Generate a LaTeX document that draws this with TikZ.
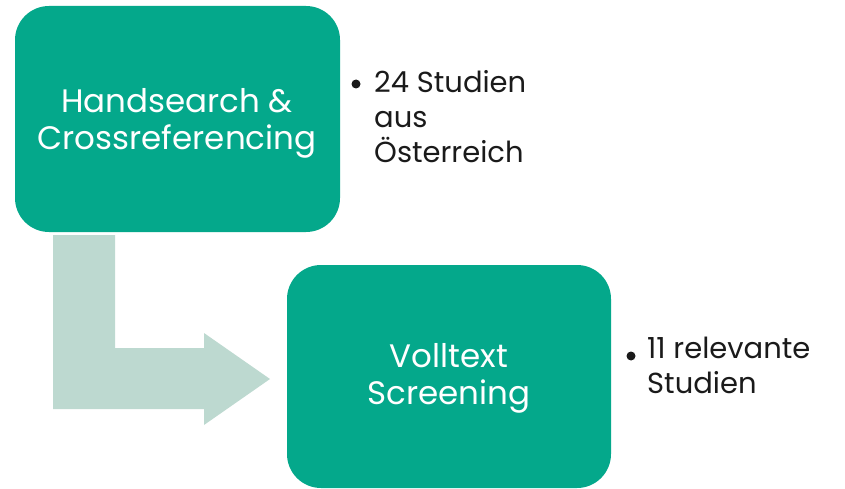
\documentclass[tikz,border=0pt]{standalone}
\usepackage{fontspec}
\setmainfont{Poppins}
\definecolor{teal1}{HTML}{04A88B}
\definecolor{arrowc}{HTML}{BDD9D0}
\definecolor{txt}{HTML}{1A1A1A}
\begin{document}
\begin{tikzpicture}[x=1pt,y=-1pt,
  stage/.style={fill=teal1, rounded corners=34pt},
  boxtxt/.style={text=white, align=center, font=\fontsize{32.5}{37}\selectfont, inner sep=0pt},
  bultxt/.style={text=txt, align=left, anchor=north west, font=\fontsize{29}{35}\selectfont, inner sep=0pt},
  dotc/.style={fill=txt}]
\useasboundingbox (0,0) rectangle (845,489);
% arrow
\fill[arrowc] (53,235) -- (115,235) -- (115,348) -- (204,348) -- (204,333) -- (270,379) -- (204,425) -- (204,409) -- (53,409) -- cycle;
% boxes
\fill[stage] (15,6) rectangle (340,232);
\fill[stage] (287,265) rectangle (611,488);
\node[boxtxt] (b1) at (177,123) {Handsearch \&\\Crossreferencing};
\node[boxtxt] (b2) at (449,378) {Volltext\\Screening};
% bullets
\coordinate (d1) at (356,84);
\fill[dotc] (d1) circle (4.5);
\node[bultxt] (t1) at (374,70) {24 Studien\\aus\\Österreich};
\coordinate (d2) at (631,356);
\fill[dotc] (d2) circle (4.5);
\node[bultxt] (t2) at (647,337) {11 relevante\\Studien};
\end{tikzpicture}
\end{document}
